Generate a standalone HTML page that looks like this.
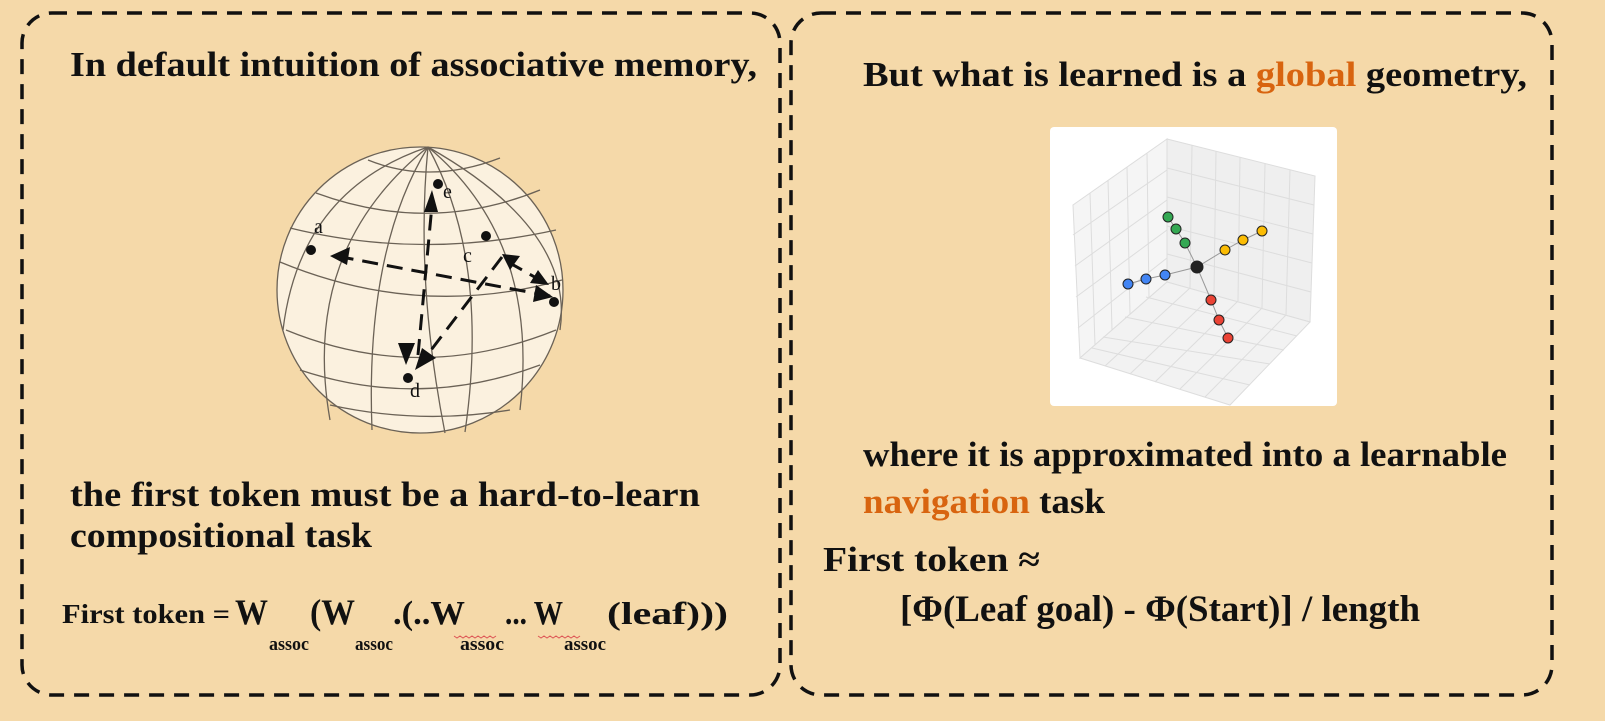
<!DOCTYPE html>
<html><head><meta charset="utf-8"><style>
html,body{margin:0;padding:0;background:#f5d9a9;}
svg{display:block}
.t{font-family:"Liberation Serif",serif;font-weight:bold;fill:#111;}
</style></head><body>
<svg width="1605" height="721" viewBox="0 0 1605 721" xmlns="http://www.w3.org/2000/svg">
<rect width="1605" height="721" fill="#f5d9a9"/>
<rect x="22" y="13" width="758" height="682" rx="30" fill="none" stroke="#111" stroke-width="3.5" stroke-dasharray="15 10"/>
<rect x="791" y="13" width="761" height="682" rx="30" fill="none" stroke="#111" stroke-width="3.5" stroke-dasharray="15 10"/>

<text class="t" x="70" y="76" font-size="35" textLength="687" lengthAdjust="spacingAndGlyphs">In default intuition of associative memory,</text>

<!-- globe -->
<g stroke="#6b6256" stroke-width="1.3" fill="none">
<circle cx="420" cy="290" r="143" fill="#fbf1df"/>
<path d="M428 147 Q300 250 330 420"/>
<path d="M428 147 Q365 250 372 430"/>
<path d="M428 147 Q415 280 445 433"/>
<path d="M428 147 Q490 260 465 432"/>
<path d="M428 147 Q540 240 520 410"/>
<path d="M428 147 Q575 230 560 330"/>
<path d="M428 147 Q300 190 283 330"/>
<path d="M368 160 Q430 185 500 158"/>
<path d="M316 193 Q430 235 540 190"/>
<path d="M290 228 Q420 260 556 230"/>
<path d="M280 262 Q420 320 562 280"/>
<path d="M286 330 Q420 385 556 330"/>
<path d="M300 370 Q420 410 540 365"/>
<path d="M330 405 Q420 425 510 410"/>
</g>
<g fill="#111">
<circle cx="438" cy="184" r="5"/><circle cx="311" cy="250" r="5"/>
<circle cx="486" cy="236" r="5"/><circle cx="554" cy="302" r="5"/>
<circle cx="408" cy="378" r="5"/>
</g>
<g font-family="Liberation Serif,serif" font-size="20" fill="#111">
<text x="443" y="198">e</text><text x="314" y="233">a</text>
<text x="463" y="262">c</text><text x="551" y="290">b</text>
<text x="410" y="397">d</text>
</g>
<g stroke="#111" stroke-width="3" stroke-dasharray="16 9" fill="none">
<line x1="550" y1="296" x2="336" y2="256"/>
<line x1="418" y1="355" x2="432" y2="205"/>
<line x1="502" y1="257" x2="425" y2="358"/>
<line x1="508" y1="262" x2="540" y2="280"/>
</g>
<g fill="#111">
<polygon points="330,256 350,247 347,265"/>
<polygon points="553,297 533,302 536,285"/>
<polygon points="432,190 438,212 424,212"/>
<polygon points="406,365 398,343 415,343"/>
<polygon points="415,370 422,348 436,358"/>
<polygon points="502,254 520,256 510,270"/>
<polygon points="549,285 530,283 538,270"/>
</g>

<text class="t" x="70" y="506" font-size="35" textLength="630" lengthAdjust="spacingAndGlyphs">the first token must be a hard-to-learn</text>
<text class="t" x="70" y="547" font-size="35" textLength="302" lengthAdjust="spacingAndGlyphs">compositional task</text>

<g class="t">
<text x="62" y="623" font-size="27" textLength="168" lengthAdjust="spacingAndGlyphs">First token =</text>
<text x="235" y="624" font-size="36" textLength="33" lengthAdjust="spacingAndGlyphs">W</text>
<text x="269" y="650" font-size="19" textLength="40" lengthAdjust="spacingAndGlyphs">assoc</text>
<text x="310" y="624" font-size="36" textLength="45" lengthAdjust="spacingAndGlyphs">(W</text>
<text x="355" y="650" font-size="19" textLength="38" lengthAdjust="spacingAndGlyphs">assoc</text>
<text x="393" y="624" font-size="34" textLength="72" lengthAdjust="spacingAndGlyphs">.(..W</text>
<text x="460" y="650" font-size="19" textLength="44" lengthAdjust="spacingAndGlyphs">assoc</text>
<text x="505" y="624" font-size="34" textLength="58" lengthAdjust="spacingAndGlyphs">... W</text>
<text x="564" y="650" font-size="19" textLength="42" lengthAdjust="spacingAndGlyphs">assoc</text>
<text x="607" y="624" font-size="32" textLength="121" lengthAdjust="spacingAndGlyphs">(leaf)))</text>
</g>
<path d="M454 636 l3 2 3-2 3 2 3-2 3 2 3-2 3 2 3-2 3 2 3-2 3 2 3-2 3 2 3-2 M538 636 l3 2 3-2 3 2 3-2 3 2 3-2 3 2 3-2 3 2 3-2 3 2 3-2 3 2 3-2" stroke="#d55" stroke-width="1" fill="none"/>

<!-- right -->
<text class="t" x="863" y="86" font-size="35" textLength="664" lengthAdjust="spacingAndGlyphs">But what is learned is a <tspan fill="#d8640f">global</tspan> geometry,</text>

<rect x="1050" y="127" width="287" height="279" rx="4" fill="#fff"/>
<g stroke="#ddd" stroke-width="1" fill="none">
<polygon points="1167,139 1315,176 1310,322 1167,282" fill="#efefef"/>
<polygon points="1167,139 1073,205 1080,358 1167,282" fill="#f5f5f5"/>
<polygon points="1167,282 1080,358 1230,405 1310,322" fill="#f2f2f2"/>
<line x1="1192" y1="145" x2="1190" y2="288"/><line x1="1216" y1="151" x2="1214" y2="294"/>
<line x1="1240" y1="157" x2="1238" y2="301"/><line x1="1265" y1="164" x2="1262" y2="308"/>
<line x1="1290" y1="170" x2="1286" y2="315"/>
<line x1="1167" y1="168" x2="1314" y2="205"/><line x1="1167" y1="197" x2="1313" y2="234"/>
<line x1="1167" y1="226" x2="1312" y2="263"/><line x1="1167" y1="254" x2="1311" y2="292"/>
<line x1="1090" y1="193" x2="1095" y2="345"/><line x1="1108" y1="180" x2="1112" y2="330"/>
<line x1="1127" y1="167" x2="1130" y2="314"/><line x1="1147" y1="153" x2="1149" y2="298"/>
<line x1="1073" y1="235" x2="1167" y2="170"/><line x1="1075" y1="266" x2="1167" y2="200"/>
<line x1="1076" y1="297" x2="1167" y2="230"/><line x1="1078" y1="328" x2="1167" y2="258"/>
<line x1="1105" y1="366" x2="1190" y2="288"/><line x1="1130" y1="374" x2="1214" y2="294"/>
<line x1="1155" y1="382" x2="1238" y2="301"/><line x1="1180" y1="389" x2="1262" y2="308"/>
<line x1="1205" y1="397" x2="1286" y2="315"/>
<line x1="1146" y1="297" x2="1297" y2="336"/><line x1="1125" y1="317" x2="1284" y2="350"/>
<line x1="1103" y1="337" x2="1270" y2="364"/><line x1="1092" y1="348" x2="1250" y2="385"/>
</g>
<g stroke="#999" stroke-width="1" fill="none">
<polyline points="1168,217 1176,229 1185,243 1197,267 1225,250 1243,240 1262,231"/>
<polyline points="1128,284 1146,279 1165,275 1197,267 1211,300 1219,320 1228,338"/>
</g>
<g stroke="#222" stroke-width="1">
<circle cx="1168" cy="217" r="5" fill="#34a853"/><circle cx="1176" cy="229" r="5" fill="#34a853"/><circle cx="1185" cy="243" r="5" fill="#34a853"/>
<circle cx="1225" cy="250" r="5" fill="#fbbc04"/><circle cx="1243" cy="240" r="5" fill="#fbbc04"/><circle cx="1262" cy="231" r="5" fill="#fbbc04"/>
<circle cx="1128" cy="284" r="5" fill="#4285f4"/><circle cx="1146" cy="279" r="5" fill="#4285f4"/><circle cx="1165" cy="275" r="5" fill="#4285f4"/>
<circle cx="1211" cy="300" r="5" fill="#ea4335"/><circle cx="1219" cy="320" r="5" fill="#ea4335"/><circle cx="1228" cy="338" r="5" fill="#ea4335"/>
<circle cx="1197" cy="267" r="6" fill="#222"/>
</g>

<text class="t" x="863" y="466" font-size="35" textLength="644" lengthAdjust="spacingAndGlyphs">where it is approximated into a learnable</text>
<text class="t" x="863" y="513" font-size="35" textLength="242" lengthAdjust="spacingAndGlyphs"><tspan fill="#d8640f">navigation</tspan> task</text>
<text class="t" x="823" y="571" font-size="35" textLength="217" lengthAdjust="spacingAndGlyphs">First token ≈</text>
<text class="t" x="900" y="621" font-size="37" textLength="520" lengthAdjust="spacingAndGlyphs">[Φ(Leaf goal) - Φ(Start)] / length</text>
</svg>
</body></html>
